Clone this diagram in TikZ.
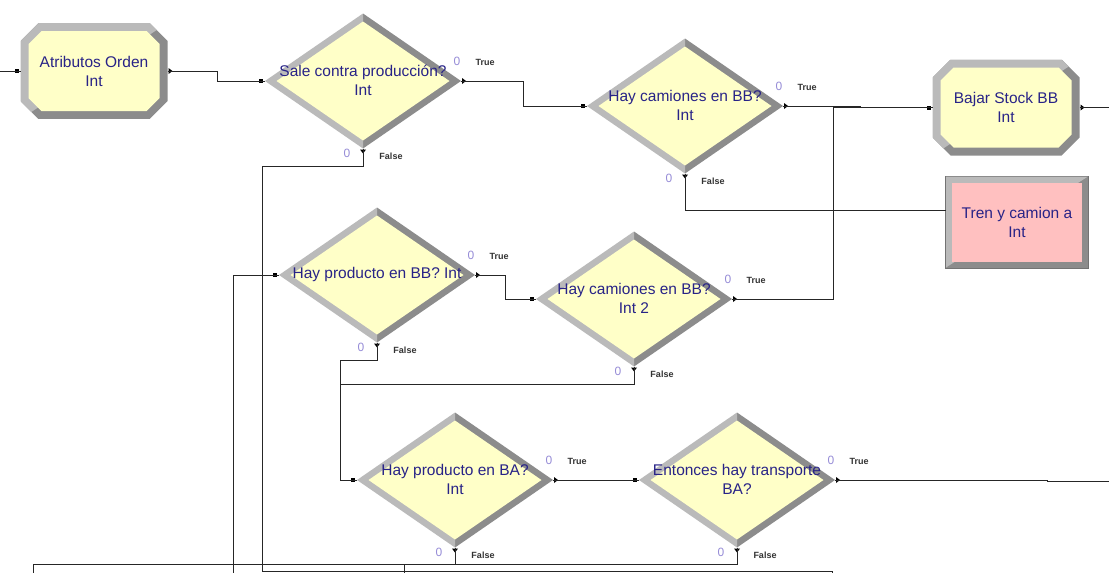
\documentclass[tikz,border=0pt]{standalone}
\usepackage{fontspec}
\setmainfont{Liberation Sans}
\usetikzlibrary{shapes.geometric,calc}

\definecolor{modfill}{RGB}{255,255,200}
\definecolor{pinkfill}{RGB}{255,192,192}
\definecolor{bevlight}{RGB}{186,186,186}
\definecolor{bevdark}{RGB}{140,140,140}
\definecolor{labtext}{RGB}{40,35,135}
\definecolor{zerotext}{RGB}{150,140,215}

\tikzset{
  decision/.style={shape=diamond, minimum width=196pt, minimum height=135pt,
                   inner sep=0pt, outer sep=0pt},
  procbox/.style={shape=rectangle, minimum width=147pt, minimum height=96pt,
                  inner sep=0pt, outer sep=0pt},
  disposebox/.style={shape=rectangle, minimum width=142pt, minimum height=91pt,
                     inner sep=0pt, outer sep=0pt},
  labeltext/.style={text=labtext, font=\fontsize{15.5}{19}\selectfont,
                    align=center, inner sep=0pt},
  conn/.style={draw=black!85, line width=1pt},
  zerolab/.style={text=zerotext, font=\fontsize{12}{12}\selectfont, inner sep=0pt},
  branchlab/.style={text=black!80, font=\fontsize{9}{9}\selectfont\bfseries, inner sep=0pt},
  portmark/.style={fill=black},
}

% Decide module: bevelled diamond with counters and branch labels
\newcommand{\decisionmod}[4]{%
  \node[decision] (#1) at (#2,#3) {};
  \fill[bevdark] (#1.north) -- (#1.east) -- (#1.south) -- cycle;
  \fill[bevlight] (#1.north) -- (#1.west) -- (#1.south) -- cycle;
  \fill[modfill] ($(#1.north)+(0,8)$) -- ($(#1.east)+(-11.5,0)$)
      -- ($(#1.south)+(0,-8)$) -- ($(#1.west)+(11.5,0)$) -- cycle;
  \node[labeltext] (#1-text) at ($(#1)+(0,-1)$) {#4};
  \fill[portmark] ($(#1.west)+(-6,-2)$) rectangle ($(#1.west)+(-2,2)$);
  \fill[portmark] ($(#1.east)+(1,-3)$) -- ($(#1.east)+(5,0)$) -- ($(#1.east)+(1,3)$) -- cycle;
  \fill[portmark] ($(#1.south)+(-3,1)$) -- ($(#1.south)+(0,5)$) -- ($(#1.south)+(3,1)$) -- cycle;
  \node[zerolab] (#1-ct) at ($(#1)+(94,-20)$) {0};
  \node[branchlab] (#1-tl) at ($(#1)+(122,-19)$) {True};
  \node[zerolab] (#1-cf) at ($(#1)+(-16,72)$) {0};
  \node[branchlab] (#1-fl) at ($(#1)+(28,75)$) {False};
}

% Process module: bevelled octagon
\newcommand{\procmod}[4]{%
  \node[procbox] (#1) at (#2,#3) {};
  \begin{scope}
    \clip ($(#1.north west)+(18,0)$) -- ($(#1.north east)+(-18,0)$)
       -- ($(#1.north east)+(0,18)$) -- ($(#1.south east)+(0,-18)$)
       -- ($(#1.south east)+(-18,0)$) -- ($(#1.south west)+(18,0)$)
       -- ($(#1.south west)+(0,-18)$) -- ($(#1.north west)+(0,18)$) -- cycle;
    \fill[bevdark] (#1.north west) rectangle (#1.south east);
    \fill[bevlight] (#1.north west) -- (#1.north east) -- (#1.south west) -- cycle;
  \end{scope}
  \fill[modfill] ($(#1.north west)+(21,8)$) -- ($(#1.north east)+(-21,8)$)
     -- ($(#1.north east)+(-8,21)$) -- ($(#1.south east)+(-8,-21)$)
     -- ($(#1.south east)+(-21,-8)$) -- ($(#1.south west)+(21,-8)$)
     -- ($(#1.south west)+(8,-21)$) -- ($(#1.north west)+(8,21)$) -- cycle;
  \node[labeltext] (#1-text) at (#1) {#4};
  \fill[portmark] ($(#1.west)+(-6,-2)$) rectangle ($(#1.west)+(-2,2)$);
  \fill[portmark] ($(#1.east)+(1,-3)$) -- ($(#1.east)+(5,0)$) -- ($(#1.east)+(1,3)$) -- cycle;
}

\begin{document}
\begin{tikzpicture}[x=1pt,y=-1pt]
\useasboundingbox (0,0) rectangle (1109,573);
\fill[white] (0,0) rectangle (1109,573);
\clip (0,0) rectangle (1109,573);

% modules
\procmod{attr}{94}{71}{Atributos Orden\\Int}
\procmod{bajar}{1006}{107.5}{Bajar Stock BB\\Int}

\decisionmod{salep}{363}{81}{Sale contra producción?\\Int}
\decisionmod{camBB}{685}{106}{Hay camiones en BB?\\Int}
\decisionmod{prodBB}{377}{275}{Hay producto en BB? Int}
\decisionmod{camBB2}{634}{299}{Hay camiones en BB?\\Int 2}
\decisionmod{prodBA}{455}{480}{Hay producto en BA?\\Int}
\decisionmod{transBA}{737}{480}{Entonces hay transporte\\BA?}

% dispose-type module
\node[disposebox] (tren) at (1017,222) {};
\fill[black!55] ($(tren.north west)+(-1,-1)$) rectangle ($(tren.south east)+(1,1)$);
\fill[bevdark] (tren.north west) rectangle (tren.south east);
\fill[bevlight] (tren.north west) -- (tren.north east) -- (tren.south west) -- cycle;
\fill[pinkfill] ($(tren.north west)+(6,6)$) rectangle ($(tren.south east)+(-6,-6)$);
\node[labeltext] (tren-text) at (tren) {Tren y camion a\\Int};

% free ends of connectors leaving the sheet
\coordinate (srcL) at (-10,71);
\coordinate (outR1) at (1120,107.5);
\coordinate (outR2) at (1120,481.5);
\coordinate (offA) at (832,590);
\coordinate (offB) at (233,590);
\coordinate (offC) at (33,590);
\coordinate (offD) at (404,590);
\coordinate (mergeFalse) at (404,564);

% connectors
\draw[conn] (srcL) -- (attr.west);
\draw[conn] (attr.east) -- (217,71) |- (salep.west);
\draw[conn] (salep.east) -- (523,81) |- (camBB.west);
\draw[conn] (camBB.east) -- (860,106) |- (bajar.west);
\draw[conn] (bajar.east) -- (outR1);
\draw[conn] (camBB.south) |- ([yshift=12pt]tren.west);
\draw[conn] (camBB2.east) -| (833,107.5) -- (bajar.west);
\draw[conn] (salep.south) |- (262,166) -- (262,571) -| (offA);
\draw[conn] (offB) |- (prodBB.west);
\draw[conn] (prodBB.east) -- (505,275) |- (camBB2.west);
\draw[conn] (prodBB.south) |- (340,360) |- (prodBA.west);
\draw[conn] (camBB2.south) |- (340,384);
\draw[conn] (prodBA.east) -- (transBA.west);
\draw[conn] (transBA.east) -- (1047,480) -- (1047,481.5) -- (outR2);
\draw[conn] (prodBA.south) |- (33,564) -- (offC);
\draw[conn] (transBA.south) |- (455,564);
\draw[conn] (mergeFalse) -- (offD);
\end{tikzpicture}
\end{document}
